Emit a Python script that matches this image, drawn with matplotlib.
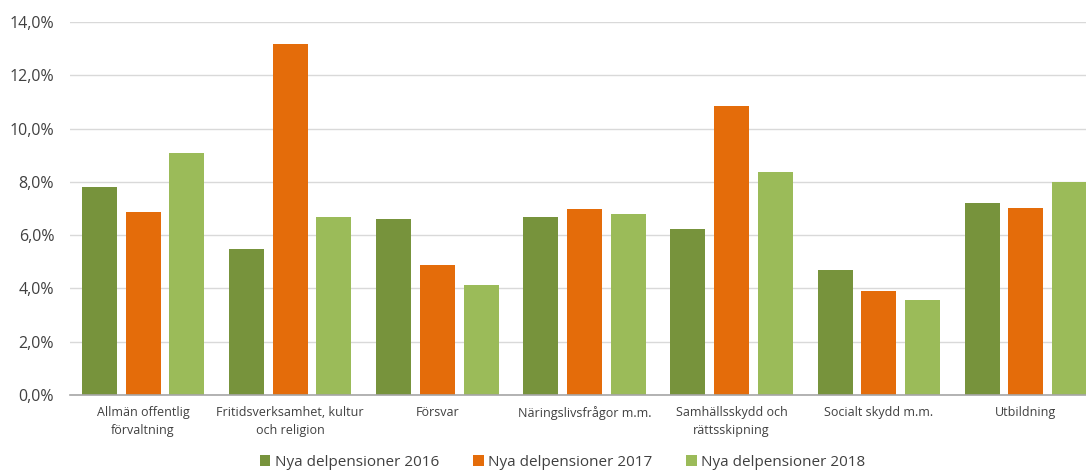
import matplotlib.pyplot as plt
import numpy as np
from matplotlib.ticker import FuncFormatter

categories = ["Allmän offentlig\nförvaltning", "Fritidsverksamhet, kultur\noch religion",
              "Försvar", "Näringslivsfrågor m.m.", "Samhällsskydd och\nrättsskipning",
              "Socialt skydd m.m.", "Utbildning"]
series_names = ["Nya delpensioner 2016", "Nya delpensioner 2017", "Nya delpensioner 2018"]
v2016 = [7.81, 5.48, 6.61, 6.68, 6.23, 4.69, 7.22]
v2017 = [6.87, 13.18, 4.88, 6.98, 10.85, 3.90, 7.02]
v2018 = [9.08, 6.68, 4.13, 6.79, 8.37, 3.57, 8.01]
colors = ["#77933C", "#E46C0A", "#9BBB59"]

plt.rcParams['font.family'] = ['Open Sans', 'DejaVu Sans']

fig = plt.figure(figsize=(10.86, 4.72), dpi=100)
ax = fig.add_axes([0.064, 0.1631, 0.9484, 0.790])

x = np.arange(len(categories))
offsets = [-0.297, 0, 0.297]
for vals, off, col, name in zip([v2016, v2017, v2018], offsets, colors, series_names):
    ax.bar(x + off, vals, width=0.238, color=col, label=name, zorder=3)

ax.set_xlim(-0.5, len(categories) - 0.5)
ax.set_ylim(0, 14)
ax.set_yticks(np.arange(0, 15, 2))
ax.yaxis.set_major_formatter(FuncFormatter(lambda v, p: f"{v:.1f}%".replace(".", ",")))
ax.grid(axis="y", color="#D9D9D9", linewidth=1, zorder=0)
for s in ["top", "right", "left"]:
    ax.spines[s].set_visible(False)
ax.spines["bottom"].set_color("#A6A6A6")
ax.spines["bottom"].set_linewidth(1.2)
ax.spines["bottom"].set_zorder(4)
ax.tick_params(axis="y", length=0, pad=11, labelsize=11.5, labelcolor="#404040")
ax.tick_params(axis="x", length=0, pad=8, labelsize=9, labelcolor="#404040")
ax.set_xticks(x)
ax.set_xticklabels(categories, linespacing=1.5)

fig.legend(loc="lower center", bbox_to_anchor=(0.518, -0.024), ncol=3, frameon=False,
           fontsize=11, handlelength=0.7, handleheight=0.7, handletextpad=0.3,
           columnspacing=2.2, labelcolor="#404040")

fig.savefig("out.png", dpi=100)
